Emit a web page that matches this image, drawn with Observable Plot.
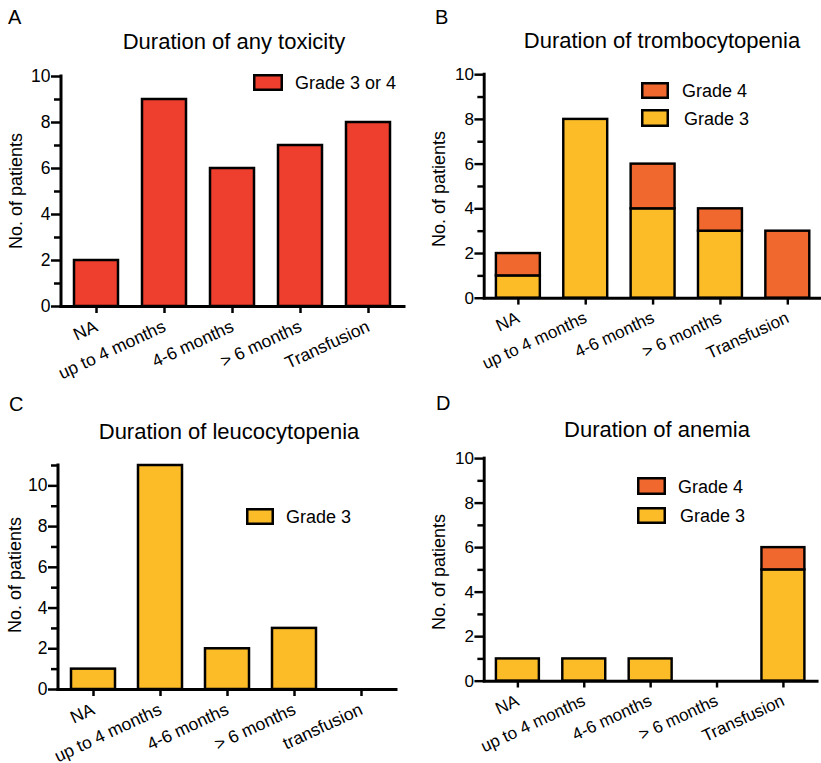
<!DOCTYPE html>
<html>
<head>
<meta charset="utf-8">
<script src="https://cdn.jsdelivr.net/npm/d3@7"></script>
<script src="https://cdn.jsdelivr.net/npm/@observablehq/plot@0.6"></script>
<style>
  html, body { margin: 0; padding: 0; background: #fff; }
  body { width: 821px; height: 763px; position: relative; overflow: hidden; font-family: "Liberation Sans", Arial, Helvetica, sans-serif; }
  .panel { position: absolute; }
  .panel svg { overflow: visible; }
  #notes { position: absolute; left: 0; top: 0; pointer-events: none; }
</style>
</head>
<body>
<div id="app"></div>
<script>
// Duration categories on the x axes
const categories = ["NA", "up to 4 months", "4-6 months", "> 6 months", "Transfusion"];
const categoriesLeuco = ["NA", "up to 4 months", "4-6 months", "> 6 months", "transfusion"];

// Number of patients per duration category
const anyToxicityGrade34 = [2, 9, 6, 7, 8];
const tromboGrade3 = [1, 8, 4, 3, 0];
const tromboGrade4 = [1, 0, 2, 1, 3];
const leucoGrade3 = [1, 11, 2, 3, 0];
const anemiaGrade3 = [1, 1, 1, 0, 5];
const anemiaGrade4 = [0, 0, 0, 0, 1];

// Axis ticks
const majorTicks10 = [0, 2, 4, 6, 8, 10];
const minorTicks10 = [1, 3, 5, 7, 9];
const minorTicks11 = [1, 3, 5, 7, 9, 11];

// Palette
const RED = "#EE3E2E";
const ORANGE = "#F0682D";
const YELLOW = "#FBBC28";

const FONT = '"Liberation Sans", Arial, sans-serif';
const app = document.getElementById("app");

function makePanel({left, top, width, height, margin, cats, series, yMax, minor}) {
  // long format; the lower segment (Grade 3) comes first so it stacks at the bottom
  const rows = [];
  cats.forEach((c, i) => series.forEach(s => rows.push({cat: c, grade: s.name, value: s.values[i]})));

  const chart = Plot.plot({
    width, height,
    marginTop: margin[0], marginRight: margin[1], marginBottom: margin[2], marginLeft: margin[3],
    style: {fontFamily: FONT, fontSize: "17px", color: "#000", background: "transparent", overflow: "visible"},
    x: {domain: cats, paddingInner: 0.35, paddingOuter: 0.175, label: null},
    y: {domain: [0, yMax], label: null},
    color: {domain: series.map(s => s.name), range: series.map(s => s.color)},
    marks: [
      Plot.barY(rows, {x: "cat", y: "value", fill: "grade", stroke: "#000", strokeWidth: 2.5, filter: d => d.value > 0}),
      Plot.axisY({ticks: majorTicks10.filter(t => t <= yMax), tickSize: 10, tickPadding: 1, strokeWidth: 2.5, label: null, fontSize: 17.5}),
      Plot.axisY({ticks: minor, tickSize: 7, strokeWidth: 2.5, label: null, tickFormat: () => ""}),
      Plot.axisX({tickSize: 7, strokeWidth: 2.5, tickRotate: -25, tickPadding: 12, label: null, fontSize: 17.5}),
      Plot.ruleY([0], {strokeWidth: 3, strokeLinecap: "square"})
    ]
  });

  // vertical axis line
  const y = chart.scale("y");
  d3.select(chart).append("line")
    .attr("x1", margin[3]).attr("x2", margin[3])
    .attr("y1", y.apply(yMax)).attr("y2", y.apply(0))
    .attr("stroke", "#000").attr("stroke-width", 3).attr("stroke-linecap", "square");

  const div = document.createElement("div");
  div.className = "panel";
  div.style.left = left + "px";
  div.style.top = top + "px";
  div.appendChild(chart);
  app.appendChild(div);
}

makePanel({left: 0, top: 0, width: 410, height: 380, margin: [76, 6, 74, 61], cats: categories,
  series: [{name: "Grade 3 or 4", values: anyToxicityGrade34, color: RED}], yMax: 10, minor: minorTicks10});
makePanel({left: 410, top: 0, width: 421, height: 380, margin: [76, 0, 75, 76], cats: categories,
  series: [{name: "Grade 3", values: tromboGrade3, color: YELLOW}, {name: "Grade 4", values: tromboGrade4, color: ORANGE}], yMax: 10, minor: minorTicks10});
makePanel({left: 0, top: 380, width: 410, height: 383, margin: [85, 14, 74, 58], cats: categoriesLeuco,
  series: [{name: "Grade 3", values: leucoGrade3, color: YELLOW}], yMax: 11, minor: minorTicks11});
makePanel({left: 410, top: 380, width: 421, height: 383, margin: [80, 4, 75, 76], cats: categories,
  series: [{name: "Grade 3", values: anemiaGrade3, color: YELLOW}, {name: "Grade 4", values: anemiaGrade4, color: ORANGE}], yMax: 10, minor: minorTicks10});

// Panel letters, titles, axis titles and legends
const notes = d3.select("body").append("svg").attr("id", "notes")
  .attr("width", 821).attr("height", 763)
  .style("font-family", FONT);

const letters = [["A", 8, 24], ["B", 435, 24], ["C", 9, 411], ["D", 436, 410]];
notes.selectAll("text.letter").data(letters).join("text").attr("class", "letter")
  .attr("x", d => d[1]).attr("y", d => d[2]).attr("font-size", 20).text(d => d[0]);

const titles = [["Duration of any toxicity", 234, 49], ["Duration of trombocytopenia", 662, 48],
  ["Duration of leucocytopenia", 229, 439], ["Duration of anemia", 657, 437]];
notes.selectAll("text.title").data(titles).join("text").attr("class", "title")
  .attr("x", d => d[1]).attr("y", d => d[2]).attr("font-size", 22).attr("text-anchor", "middle").text(d => d[0]);

const yTitles = [[22, 191], [445, 189], [21, 575], [445, 572]];
notes.selectAll("text.ytitle").data(yTitles).join("text").attr("class", "ytitle")
  .attr("transform", d => `translate(${d[0]},${d[1]}) rotate(-90)`)
  .attr("font-size", 18).attr("text-anchor", "middle").text("No. of patients");

const legendItems = [
  {label: "Grade 3 or 4", color: RED, bx: 253, by: 74, bw: 30, bh: 17, tx: 295, ty: 89},
  {label: "Grade 4", color: ORANGE, bx: 641, by: 82, bw: 28, bh: 17, tx: 682, ty: 97},
  {label: "Grade 3", color: YELLOW, bx: 641, by: 109, bw: 28, bh: 18, tx: 684, ty: 125},
  {label: "Grade 3", color: YELLOW, bx: 246, by: 508, bw: 28, bh: 17, tx: 286, ty: 523},
  {label: "Grade 4", color: ORANGE, bx: 637, by: 477, bw: 29, bh: 18, tx: 678, ty: 493},
  {label: "Grade 3", color: YELLOW, bx: 637, by: 507, bw: 29, bh: 17, tx: 680, ty: 522}
];
const lg = notes.selectAll("g.legend").data(legendItems).join("g").attr("class", "legend");
lg.append("rect")
  .attr("x", d => d.bx + 1.25).attr("y", d => d.by + 1.25)
  .attr("width", d => d.bw - 2.5).attr("height", d => d.bh - 2.5)
  .attr("fill", d => d.color).attr("stroke", "#000").attr("stroke-width", 2.5);
lg.append("text").attr("x", d => d.tx).attr("y", d => d.ty).attr("font-size", 18).text(d => d.label);
</script>
</body>
</html>
